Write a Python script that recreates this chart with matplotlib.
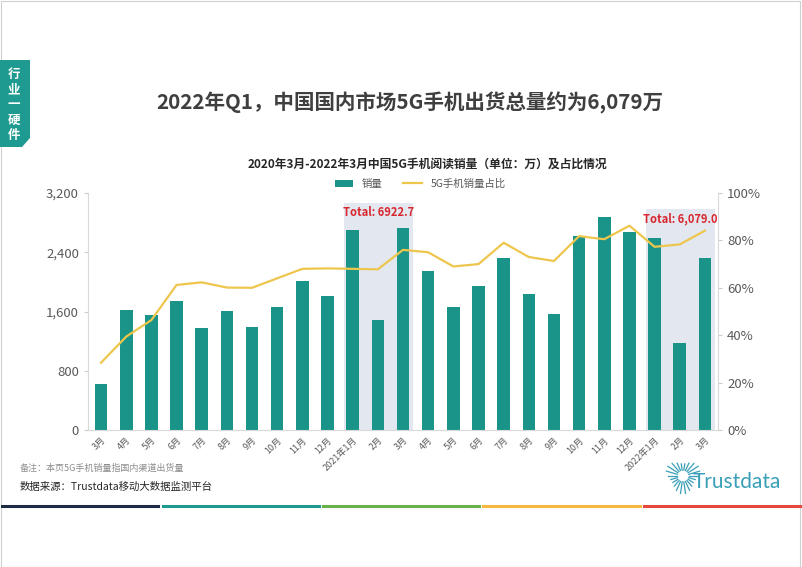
import numpy as np
import matplotlib.pyplot as plt
from matplotlib.patches import Rectangle, Polygon
from matplotlib.ticker import FuncFormatter

plt.rcParams['font.family'] = ['Noto Sans CJK SC', 'DejaVu Sans']

# data
months = ["3月", "4月", "5月", "6月", "7月", "8月", "9月", "10月", "11月", "12月",
          "2021年1月", "2月", "3月", "4月", "5月", "6月", "7月", "8月", "9月", "10月",
          "11月", "12月", "2022年1月", "2月", "3月"]
sales = [620, 1620, 1553, 1742, 1377, 1607, 1390, 1660, 2012, 1809,
         2700, 1490, 2733, 2147, 1660, 1944, 2322, 1836, 1566, 2619,
         2876, 2673, 2592, 1170, 2317]
share = [28.4, 39.4, 46.4, 61.2, 62.3, 60.1, 60.0, 64.0, 68.0, 68.2,
         68.0, 67.8, 76.0, 75.0, 69.0, 70.0, 79.0, 73.0, 71.3, 81.8,
         80.5, 86.2, 77.3, 78.3, 84.1]
# (first index, last index, label, shade top as axes fraction)
highlights = [(10, 12, "Total: 6922.7", 0.959), (22, 24, "Total: 6,079.0", 0.932)]

teal = "#1a9488"
gold = "#eec64e"
grey = "#595959"

fig = plt.figure(figsize=(8.02, 5.67), dpi=100)
fig.patch.set_facecolor("white")

# slide decorations
fig.add_artist(Rectangle((0.001, 0.0), 0.997, 0.999, transform=fig.transFigure,
                         fill=False, ec="#d0d0d0", lw=0.8))
tab = Polygon([(0, 1 - 60 / 567), (30 / 802, 1 - 60 / 567), (30 / 802, 1 - 138 / 567),
               (22 / 802, 1 - 147 / 567), (0, 1 - 147 / 567)],
              closed=True, transform=fig.transFigure, fc="#1f9a90", ec="none")
fig.add_artist(tab)
for i, ch in enumerate("行业一硬件"):
    fig.text(14 / 802, 1 - (74 + i * 15.5) / 567, ch, ha="center", va="center",
             color="white", fontsize=9, fontweight="bold")

fig.text(410 / 802, 1 - 103 / 567, "2022年Q1，中国国内市场5G手机出货总量约为6,079万",
         ha="center", va="center", fontsize=14.8, fontweight="bold", color="#3f3f3f")
fig.text(427 / 802, 1 - 164 / 567, "2020年3月-2022年3月中国5G手机阅读销量（单位：万）及占比情况",
         ha="center", va="center", fontsize=8.5, fontweight="bold", color="#262626")

ax = fig.add_axes([88 / 802, 1 - 430 / 567, 630 / 802, 237 / 567])
x = np.arange(len(months))

for start, end, label, top in highlights:
    ax.axvspan(start - 0.36, end + 0.4, ymin=0, ymax=top,
               color="#e2e7f0", zorder=0, lw=0)
    ax.text((start + end) / 2 + 0.02, (top - 0.042) * 3200, label, ha="center",
            va="center", color="#d9262e", fontsize=8, fontweight="bold", zorder=5)

bars = ax.bar(x, sales, width=0.5, color=teal, zorder=2, label="销量")
ax.set_xlim(-0.52, len(months) - 0.48)
ax.set_ylim(0, 3200)
ax.set_yticks([0, 800, 1600, 2400, 3200])
ax.yaxis.set_major_formatter(FuncFormatter(lambda v, p: f"{int(v):,}"))
ax.set_xticks(x)
ax.set_xticklabels(months, rotation=45, ha="right", rotation_mode="anchor",
                   fontsize=6.5, color=grey)
ax.tick_params(axis="x", length=0, pad=4)
ax.tick_params(axis="y", labelsize=9.5, colors=grey, length=3, color="#cccccc")

ax2 = ax.twinx()
line, = ax2.plot(x, share, color=gold, lw=1.6, zorder=3, label="5G手机销量占比")
ax2.set_ylim(0, 100)
ax2.set_yticks(range(0, 101, 20))
ax2.yaxis.set_major_formatter(FuncFormatter(lambda v, p: f"{int(v)}%"))
ax2.tick_params(axis="y", labelsize=9.5, colors=grey, length=3, color="#cccccc")

for a in (ax, ax2):
    a.spines["top"].set_visible(False)
    for s in ("left", "right", "bottom"):
        a.spines[s].set_color("#d9d9d9")
        a.spines[s].set_linewidth(0.8)
ax.spines["right"].set_visible(False)
ax2.spines["left"].set_visible(False)
ax2.spines["bottom"].set_visible(False)

fig.legend(handles=[bars, line], labels=["销量", "5G手机销量占比"], loc="center",
           bbox_to_anchor=(420 / 802, 1 - 184 / 567), ncol=2, frameon=False,
           fontsize=7.5, handlelength=1.8, columnspacing=2.0, labelcolor=grey)

# footnotes
fig.text(20 / 802, 1 - 468 / 567, "备注：本页5G手机销量指国内渠道出货量", fontsize=6.5,
         color="#8c8c8c", va="center")
fig.text(20 / 802, 1 - 487 / 567, "数据来源：Trustdata移动大数据监测平台", fontsize=7.5,
         color="#262626", va="center")

# logo
cx, cy = 683 / 802, 1 - 476 / 567
ang = np.linspace(0, 2 * np.pi, 22, endpoint=False)
for a in ang:
    r0, r1 = 6, 15 + 3 * np.sin(a * 3)
    fig.add_artist(plt.Line2D([cx + r0 * np.cos(a) / 802, cx + r1 * np.cos(a) / 802],
                              [cy + r0 * np.sin(a) / 567, cy + r1 * np.sin(a) / 567],
                              transform=fig.transFigure, color="#3a9fb8", lw=0.9))
fig.text(693 / 802, 1 - 482 / 567, "Trustdata", fontsize=15, color="#3a9fb8",
         va="center", ha="left", family="Lato")

# bottom colour bars
for i, c in enumerate(["#1f2a44", "#1f9a90", "#6ab04c", "#f5b93f", "#e8473f"]):
    fig.add_artist(plt.Line2D([(2 + i * 160.5) / 802, (158 + i * 160.5) / 802],
                              [1 - 506 / 567] * 2, transform=fig.transFigure,
                              color=c, lw=2.2))

fig.savefig("out.png", dpi=100)
